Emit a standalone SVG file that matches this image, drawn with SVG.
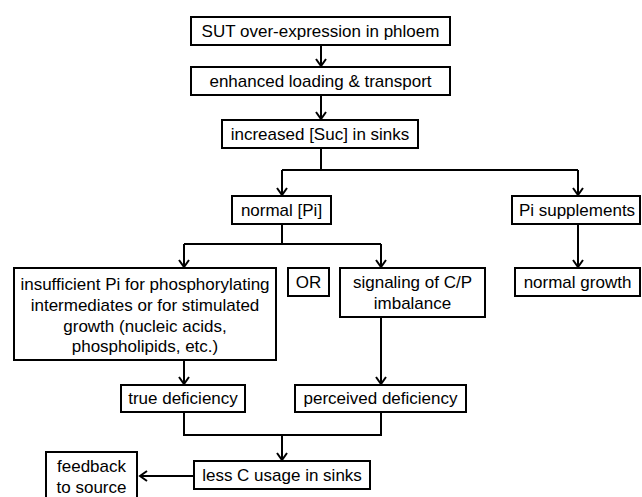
<svg xmlns="http://www.w3.org/2000/svg" width="642" height="497" viewBox="0 0 642 497">
<style>
.box{fill:#fff;stroke:#000;stroke-width:2}
.t{font-family:"Liberation Sans",Arial,sans-serif;font-size:17px;fill:#000;text-anchor:middle}
.c{fill:none;stroke:#000;stroke-width:2}
</style>
<defs>
<marker id="ah" viewBox="-9 -7 11 14" markerWidth="11" markerHeight="14" refX="0" refY="0" orient="auto" markerUnits="userSpaceOnUse">
<path d="M-7,-5 L0,0 L-7,5" fill="none" stroke="#000" stroke-width="2"/>
</marker>
</defs>
<rect width="642" height="497" fill="#fff"/>
<g id="connectors">
<path class="c" d="M321,45 V66" marker-end="url(#ah)"/>
<path class="c" d="M321,95 V119" marker-end="url(#ah)"/>
<path class="c" d="M321,148 V170 M282,170 H578"/>
<path class="c" d="M282,170 V195" marker-end="url(#ah)"/>
<path class="c" d="M578,170 V195" marker-end="url(#ah)"/>
<path class="c" d="M282,224 V244 M184,244 H381"/>
<path class="c" d="M184,244 V267" marker-end="url(#ah)"/>
<path class="c" d="M381,244 V267" marker-end="url(#ah)"/>
<path class="c" d="M578,224 V267" marker-end="url(#ah)"/>
<path class="c" d="M184,360 V384" marker-end="url(#ah)"/>
<path class="c" d="M381,317 V384" marker-end="url(#ah)"/>
<path class="c" d="M184,412 V435 H381 V412"/>
<path class="c" d="M282,435 V460" marker-end="url(#ah)"/>
<path class="c" d="M194,476 H140" marker-end="url(#ah)"/>
</g>
<g id="n1"><rect class="box" x="191" y="17" width="259" height="28"/><text class="t" x="320.5" y="37">SUT over-expression  in phloem</text></g>
<g id="n2"><rect class="box" x="191" y="67" width="259" height="28"/><text class="t" x="320.5" y="87">enhanced loading &amp; transport</text></g>
<g id="n3"><rect class="box" x="222" y="120" width="196" height="28"/><text class="t" x="320" y="140">increased [Suc] in sinks</text></g>
<g id="n4"><rect class="box" x="232" y="196" width="99" height="28"/><text class="t" x="281.5" y="216">normal [Pi]</text></g>
<g id="n5"><rect class="box" x="512" y="196" width="128" height="28"/><text class="t" x="577" y="216">Pi supplements</text></g>
<g id="n6"><rect class="box" x="14" y="268" width="262" height="92"/>
<text class="t" x="145" y="290">insufficient Pi for phosphorylating</text>
<text class="t" x="145" y="311">intermediates or for stimulated</text>
<text class="t" x="145" y="332">growth (nucleic acids,</text>
<text class="t" x="145" y="352">phospholipids, etc.)</text></g>
<g id="n7"><rect class="box" x="288" y="268" width="41" height="28"/><text class="t" x="308.5" y="288">OR</text></g>
<g id="n8"><rect class="box" x="340" y="268" width="145" height="49"/>
<text class="t" x="412.5" y="288">signaling of C/P</text>
<text class="t" x="412.5" y="309">imbalance</text></g>
<g id="n9"><rect class="box" x="515" y="268" width="125" height="28"/><text class="t" x="577.5" y="288">normal growth</text></g>
<g id="n10"><rect class="box" x="121" y="385" width="124" height="27"/><text class="t" x="183" y="404">true deficiency</text></g>
<g id="n11"><rect class="box" x="295" y="385" width="171" height="27"/><text class="t" x="380.5" y="404">perceived deficiency</text></g>
<g id="n12"><rect class="box" x="194" y="461" width="176" height="28"/><text class="t" x="282" y="481">less C usage in sinks</text></g>
<g id="n13"><rect class="box" x="46" y="452" width="91" height="50"/>
<text class="t" x="91.5" y="472">feedback</text>
<text class="t" x="91.5" y="493">to source</text></g>
</svg>
